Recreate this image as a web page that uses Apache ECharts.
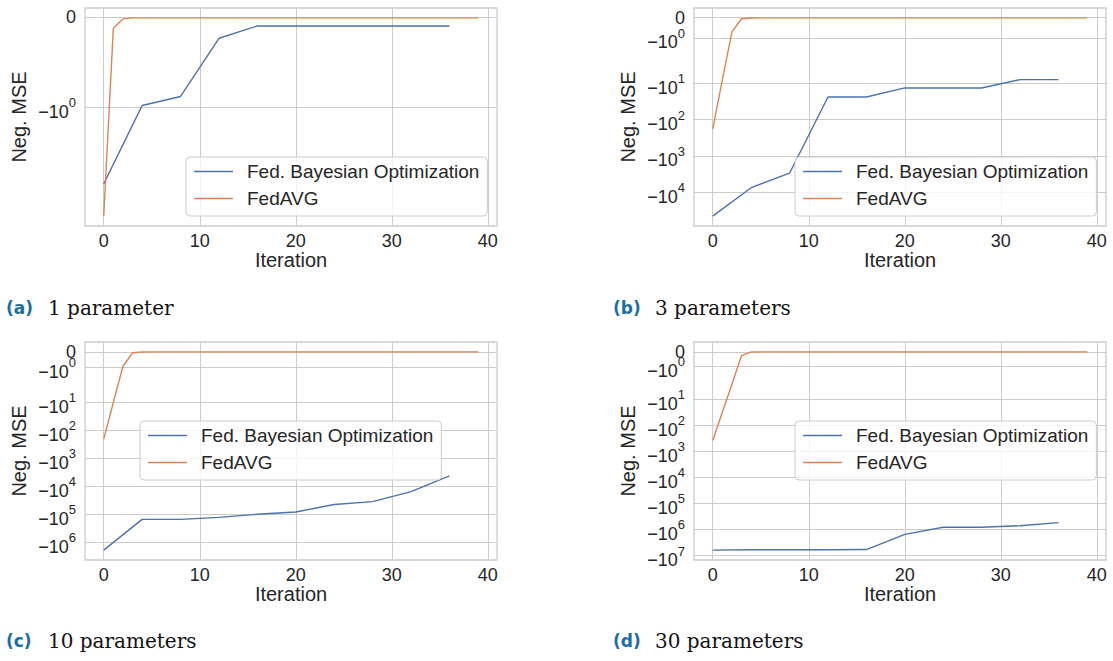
<!DOCTYPE html>
<html>
<head>
<meta charset="utf-8">
<title>Neg. MSE vs Iteration</title>
<script src="https://cdn.jsdelivr.net/npm/echarts@6/dist/echarts.min.js"></script>
<style>
  html, body { margin: 0; padding: 0; background: #fff; }
  #chart { width: 1113px; height: 661px; }
</style>
</head>
<body>
<div id="chart"></div>
<script>
// x values
const iterAvg = [0, 1, 2, 3, 4, 5, 6, 7, 8, 9, 10, 11, 12, 13, 14, 15, 16, 17, 18, 19,
  20, 21, 22, 23, 24, 25, 26, 27, 28, 29, 30, 31, 32, 33, 34, 35, 36, 37, 38, 39]
const iterBO = [0, 4, 8, 12, 16, 20, 24, 28, 32, 36]

// (a) 1 parameter
const boA = [-1.85, -0.98, -0.88, -0.234, -0.097, -0.097, -0.097, -0.097, -0.097, -0.097]
const avgA = [-2.61, -0.122, -0.019, -0.008, -0.008, -0.008, -0.008, -0.008, -0.008, -0.008,
  -0.008, -0.008, -0.008, -0.008, -0.008, -0.008, -0.008, -0.008, -0.008, -0.008,
  -0.008, -0.008, -0.008, -0.008, -0.008, -0.008, -0.008, -0.008, -0.008, -0.008,
  -0.008, -0.008, -0.008, -0.008, -0.008, -0.008, -0.008, -0.008, -0.008, -0.008]

// (b) 3 parameters
const boB = [-46100, -7590, -3020, -23.8, -23.8, -13.4, -13.4, -13.4, -7.9, -7.9]
const avgB = [-184, -8, -0.7, -0.05, -0.01, -0.008, -0.008, -0.008, -0.008, -0.008,
  -0.008, -0.008, -0.008, -0.008, -0.008, -0.008, -0.008, -0.008, -0.008, -0.008,
  -0.008, -0.008, -0.008, -0.008, -0.008, -0.008, -0.008, -0.008, -0.008, -0.008,
  -0.008, -0.008, -0.008, -0.008, -0.008, -0.008, -0.008, -0.008, -0.008, -0.008]

// (c) 10 parameters
const boC = [-1880000, -150000, -150000, -127000, -99000, -82000, -44000, -35000, -15300, -4200]
const avgC = [-204, -10, -0.93, -0.065, -0.01, -0.008, -0.008, -0.008, -0.008, -0.008,
  -0.008, -0.008, -0.008, -0.008, -0.008, -0.008, -0.008, -0.008, -0.008, -0.008,
  -0.008, -0.008, -0.008, -0.008, -0.008, -0.008, -0.008, -0.008, -0.008, -0.008,
  -0.008, -0.008, -0.008, -0.008, -0.008, -0.008, -0.008, -0.008, -0.008, -0.008]

// (d) 30 parameters
const boD = [-6200000, -6000000, -6000000, -6000000, -5900000, -1550000, -830000, -830000, -720000, -550000]
const avgD = [-389, -32, -2.7, -0.26, -0.01, -0.008, -0.008, -0.008, -0.008, -0.008,
  -0.008, -0.008, -0.008, -0.008, -0.008, -0.008, -0.008, -0.008, -0.008, -0.008,
  -0.008, -0.008, -0.008, -0.008, -0.008, -0.008, -0.008, -0.008, -0.008, -0.008,
  -0.008, -0.008, -0.008, -0.008, -0.008, -0.008, -0.008, -0.008, -0.008, -0.008]

const xTicks = [0, 10, 20, 30, 40]
const yTicks = [0, -1, -10, -100, -1e3, -1e4, -1e5, -1e6, -1e7]
const seriesNames = ['Fed. Bayesian Optimization', 'FedAVG']
const captionTags = ['(a)', '(b)', '(c)', '(d)']
const captionTexts = ['1 parameter', '3 parameters', '10 parameters', '30 parameters']

const panels = [
  { bo: boA, avg: avgA, grid: { left: 85, top: 8 }, legend: { left: 186, top: 157 }, caption: [6, 298] },
  { bo: boB, avg: avgB, grid: { left: 694, top: 8 }, legend: { left: 795, top: 157 }, caption: [613, 298] },
  { bo: boC, avg: avgC, grid: { left: 85, top: 342 }, legend: { left: 140, top: 421 }, caption: [6, 631] },
  { bo: boD, avg: avgD, grid: { left: 694, top: 342 }, legend: { left: 795, top: 421 }, caption: [613, 631] },
]

// matplotlib symlog (linthresh 2, linscale 1, base 10)
const LINTHRESH = 2
const LINSCALE_ADJ = 1 / (1 - 1 / 10)
function symlog(v) {
  const a = Math.abs(v)
  if (a <= LINTHRESH) return v * LINSCALE_ADJ
  return Math.sign(v) * LINTHRESH * (LINSCALE_ADJ + Math.log10(a / LINTHRESH))
}

const blue = '#4c72b0'
const orange = '#dd8452'
const textColor = '#262626'
const gridColor = '#cccccc'
const sans = "'Liberation Sans', Arial, sans-serif"

function tickLabel(val) {
  const k = yTicks.findIndex(v => Math.abs(symlog(v) - val) < 1e-6)
  if (k < 0) return ''   // blank edge entries, keep echarts from dropping real labels
  const v = yTicks[k]
  if (v === 0) return '{z|0}'
  return '{m|\u221210}{s|' + Math.round(Math.log10(-v)) + '}'
}

const grid = [], xAxis = [], yAxis = [], series = [], legend = [], graphic = []

panels.forEach((p, i) => {
  const ts = p.bo.concat(p.avg).map(symlog)
  const tMin = Math.min(...ts), tMax = Math.max(...ts)
  const pad = (tMax - tMin) * 0.05
  const yMin = tMin - pad, yMax = tMax + pad
  const tickT = yTicks.map(symlog).filter(t => t >= yMin && t <= yMax)
  const labelT = [yMax].concat(tickT, [yMin])

  grid.push({
    left: p.grid.left, top: p.grid.top, width: 412, height: 218,
    show: true, borderColor: gridColor, borderWidth: 1.3,
    outerBoundsMode: 'none',
  })
  xAxis.push({
    type: 'value', gridIndex: i, min: -1.95, max: 40.95,
    name: 'Iteration', nameLocation: 'middle', nameGap: 24, nameMoveOverlap: false,
    nameTextStyle: { color: textColor, fontSize: 20, fontFamily: sans },
    axisLine: { show: false },
    axisTick: { show: false, customValues: xTicks },
    axisLabel: { customValues: xTicks, margin: 6, color: textColor, fontSize: 18, fontFamily: sans },
    splitLine: { show: true, lineStyle: { color: gridColor, width: 1 } },
  })
  yAxis.push({
    type: 'value', gridIndex: i, min: yMin, max: yMax,
    name: 'Neg. MSE', nameLocation: 'middle', nameRotate: 90, nameGap: 56, nameMoveOverlap: false,
    nameTextStyle: { color: textColor, fontSize: 20, fontFamily: sans },
    axisLine: { show: false },
    axisTick: { show: false, customValues: tickT },
    axisLabel: {
      customValues: labelT, margin: 9, color: textColor, fontFamily: sans,
      hideOverlap: false,
      formatter: tickLabel,
      rich: {
        z: { fontSize: 18, lineHeight: 18, color: textColor, fontFamily: sans },
        m: { fontSize: 18, lineHeight: 18, padding: [9, 0, 0, 0], color: textColor, fontFamily: sans },
        s: { fontSize: 13, lineHeight: 13, padding: [0, 0, 9, 0], color: textColor, fontFamily: sans },
      },
    },
    splitLine: { show: true, lineStyle: { color: gridColor, width: 1 } },
  })
  series.push({
    name: seriesNames[0], type: 'line', xAxisIndex: i, yAxisIndex: i,
    symbol: 'none', color: blue, lineStyle: { color: blue, width: 1.4 },
    data: iterBO.map((x, k) => [x, symlog(p.bo[k])]),
  })
  series.push({
    name: seriesNames[1], type: 'line', xAxisIndex: i, yAxisIndex: i,
    symbol: 'none', color: orange, lineStyle: { color: orange, width: 1.4 },
    data: iterAvg.map((x, k) => [x, symlog(p.avg[k])]),
  })
  legend.push({
    data: seriesNames, orient: 'vertical', left: p.legend.left, top: p.legend.top,
    icon: 'rect', itemWidth: 39, itemHeight: 1.5, itemGap: 8,
    padding: [5, 8, 8, 8],
    backgroundColor: 'rgba(255,255,255,0.8)', borderColor: gridColor, borderWidth: 1, borderRadius: 4,
    textStyle: { color: textColor, fontSize: 19, lineHeight: 19, fontFamily: sans, padding: [0, 0, 0, 9] },
    selectedMode: false,
  })
  graphic.push({
    type: 'text', left: p.caption[0], top: p.caption[1] + 1,
    style: { text: captionTags[i], fill: '#1c6ea4', font: "bold 17px 'DejaVu Sans', sans-serif" },
  })
  graphic.push({
    type: 'text', left: p.caption[0] + 42, top: p.caption[1],
    style: { text: captionTexts[i], fill: '#111111', font: "20px 'DejaVu Serif', serif" },
  })
})

const chart = echarts.init(document.getElementById('chart'), null, { renderer: 'svg' })
chart.setOption({
  animation: false,
  backgroundColor: '#ffffff',
  grid, xAxis, yAxis, series, legend, graphic,
})
</script>
</body>
</html>
